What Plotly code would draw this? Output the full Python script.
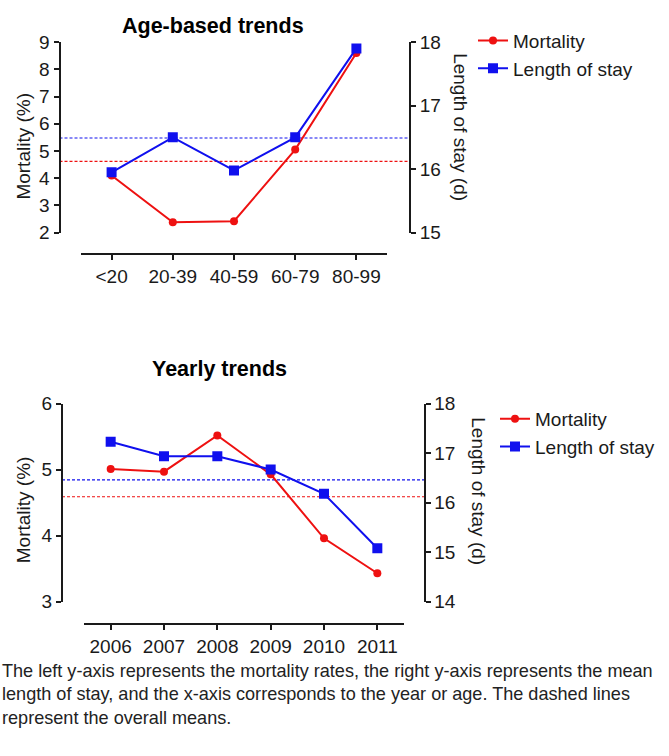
import plotly.graph_objects as go

# ---------------- data ----------------
age_groups = ["<20", "20-39", "40-59", "60-79", "80-99"]
age_mortality = [4.1, 2.38, 2.42, 5.05, 8.6]
age_los = [15.95, 16.5, 15.98, 16.5, 17.9]
age_mortality_mean = [4.62]
age_los_mean = [16.49]

years = ["2006", "2007", "2008", "2009", "2010", "2011"]
year_mortality = [5.01, 4.97, 5.52, 4.93, 3.96, 3.43]
year_los = [17.23, 16.94, 16.94, 16.67, 16.18, 15.08]
year_mortality_mean = [4.59]
year_los_mean = [16.46]

titles = ["Age-based trends", "Yearly trends"]
series_names = ["Mortality", "Length of stay"]
left_title = "Mortality (%)"
right_title = "Length of stay (d)"
caption_lines = [
    "The left y-axis represents the mortality rates, the right y-axis represents the mean",
    "length of stay, and the x-axis corresponds to the year or age. The dashed lines",
    "represent the overall means.",
]

# ---------------- layout helpers ----------------
W, H = 669, 756
FONT = "Liberation Sans, Arial, Helvetica, sans-serif"
INK = "#1a1a1a"
RED = "#ee1111"
BLUE = "#1010ee"


def px(x):
    return x / W


def py(y):
    return 1 - y / H


fig = go.Figure()

# top chart traces
fig.add_trace(go.Scatter(x=age_groups, y=age_mortality, name=series_names[0],
                         mode="lines+markers", xaxis="x", yaxis="y", legend="legend",
                         line=dict(color=RED, width=2),
                         marker=dict(symbol="circle", size=8, color=RED)))
fig.add_trace(go.Scatter(x=age_groups, y=age_los, name=series_names[1],
                         mode="lines+markers", xaxis="x", yaxis="y2", legend="legend",
                         line=dict(color=BLUE, width=2),
                         marker=dict(symbol="square", size=10, color=BLUE)))
# bottom chart traces
fig.add_trace(go.Scatter(x=years, y=year_mortality, name=series_names[0],
                         mode="lines+markers", xaxis="x2", yaxis="y3", legend="legend2",
                         line=dict(color=RED, width=2),
                         marker=dict(symbol="circle", size=8, color=RED)))
fig.add_trace(go.Scatter(x=years, y=year_los, name=series_names[1],
                         mode="lines+markers", xaxis="x2", yaxis="y4", legend="legend2",
                         line=dict(color=BLUE, width=2),
                         marker=dict(symbol="square", size=10, color=BLUE)))

axis_common = dict(showgrid=False, zeroline=False, showline=True, linecolor=INK,
                   linewidth=2, ticks="outside", ticklen=5, tickwidth=2,
                   tickcolor=INK, tickfont=dict(family=FONT, size=19, color=INK))

fig.update_layout(
    width=W, height=H,
    margin=dict(l=0, r=0, t=0, b=0),
    paper_bgcolor="white", plot_bgcolor="rgba(0,0,0,0)",
    showlegend=True,
    xaxis=dict(axis_common, type="category", domain=[px(81), px(387)],
               range=[-0.5, 4.5], anchor="free", position=py(251)),
    yaxis=dict(axis_common, domain=[py(229), py(33)], range=[2, 9], dtick=1,
               anchor="free", position=px(59.5)),
    yaxis2=dict(axis_common, overlaying="y", side="right", range=[15, 18], dtick=1,
                anchor="free", position=px(410)),
    xaxis2=dict(axis_common, type="category", domain=[px(84), px(404)],
                range=[-0.5, 5.5], anchor="free", position=py(632)),
    yaxis3=dict(axis_common, domain=[py(608.5), py(405)], range=[3, 6], dtick=1,
                anchor="free", position=px(62)),
    yaxis4=dict(axis_common, overlaying="y3", side="right", range=[14, 18], dtick=1,
                anchor="free", position=px(424.5)),
    legend=dict(x=px(473), y=py(12), xanchor="left", yanchor="top",
                font=dict(family=FONT, size=19, color=INK), itemwidth=30,
                bgcolor="rgba(0,0,0,0)", tracegroupgap=0),
    legend2=dict(x=px(495), y=py(401), xanchor="left", yanchor="top",
                 font=dict(family=FONT, size=19, color=INK), itemwidth=30,
                 bgcolor="rgba(0,0,0,0)", tracegroupgap=0),
)

# dashed mean lines
mean_lines = [
    ("y", age_mortality_mean[0], RED, 59.5, 410),
    ("y2", age_los_mean[0], BLUE, 59.5, 410),
    ("y3", year_mortality_mean[0], RED, 62, 424.5),
    ("y4", year_los_mean[0], BLUE, 62, 424.5),
]
for yref, val, col, x0, x1 in mean_lines:
    fig.add_shape(type="line", xref="paper", yref=yref, x0=px(x0), x1=px(x1),
                  y0=val, y1=val, layer="below",
                  line=dict(color=col, width=1.2, dash="3px,2px"))

annotations = []
# titles
annotations.append(dict(text="<b>%s</b>" % titles[0], x=px(213), y=py(16),
                        xref="paper", yref="paper", showarrow=False,
                        xanchor="center", yanchor="middle",
                        font=dict(family=FONT, size=21.5, color="black")))
annotations.append(dict(text="<b>%s</b>" % titles[1], x=px(219), y=py(369),
                        xref="paper", yref="paper", showarrow=False,
                        xanchor="center", yanchor="middle",
                        font=dict(family=FONT, size=21.5, color="black")))
# axis titles
for x, y, txt, ang in [(23.5, 140, left_title, -90), (460.5, 120, right_title, 90),
                       (23.5, 514, left_title, -90), (479, 495, right_title, 90)]:
    annotations.append(dict(text=txt, x=px(x), y=py(y), xref="paper", yref="paper",
                            showarrow=False, textangle=ang, xanchor="center",
                            yanchor="middle",
                            font=dict(family=FONT, size=19, color=INK)))
# caption
for i, line in enumerate(caption_lines):
    annotations.append(dict(text=line, x=0, y=py(680 + 24 * i), xref="paper",
                            yref="paper", showarrow=False, xanchor="left",
                            yanchor="middle", align="left",
                            font=dict(family=FONT, size=18.1, color="#222222")))
fig.update_layout(annotations=annotations)

fig.write_html("out.html", config={"displayModeBar": False},
               post_script="document.body.style.margin='0px';")
